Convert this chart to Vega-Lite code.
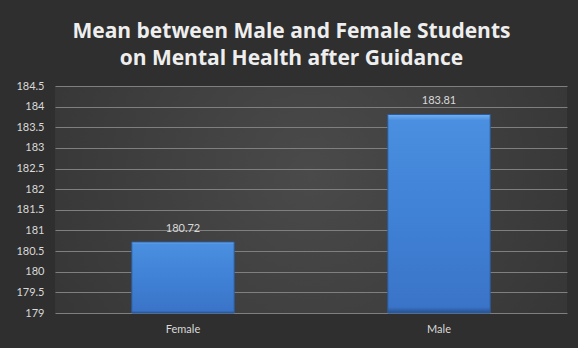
{
  "$schema": "https://vega.github.io/schema/vega-lite/v6.json",
  "width": 512,
  "height": 227,
  "autosize": {"type": "none"},
  "padding": {"left": 55, "top": 86, "right": 11, "bottom": 35},
  "background": "#2f2f2f",
  "title": {
    "text": ["Mean between Male and Female Students", "on Mental Health after Guidance"],
    "anchor": "middle",
    "frame": "bounds",
    "font": "Open Sans",
    "fontSize": 21,
    "fontWeight": "bold",
    "color": "#eeeeee",
    "lineHeight": 27,
    "offset": 11
  },
  "data": {
    "values": [
      {"gender": "Female", "mean": 180.72},
      {"gender": "Male", "mean": 183.81}
    ]
  },
  "encoding": {
    "x": {
      "field": "gender",
      "type": "nominal",
      "sort": ["Female", "Male"],
      "scale": {"paddingInner": 0.6, "paddingOuter": 0.3},
      "axis": {
        "title": null,
        "labelAngle": 0,
        "domain": false,
        "ticks": false,
        "labelPadding": 10,
        "labelFont": "Lato",
        "labelFontSize": 11,
        "labelColor": "#d9d9d9"
      }
    },
    "y": {
      "field": "mean",
      "type": "quantitative",
      "scale": {"domain": [179, 184.5], "zero": false, "nice": false},
      "axis": {
        "title": null,
        "values": [179, 179.5, 180, 180.5, 181, 181.5, 182, 182.5, 183, 183.5, 184, 184.5],
        "format": "~g",
        "domain": false,
        "ticks": false,
        "labelPadding": 11,
        "labelFont": "Lato",
        "labelFontSize": 11,
        "labelColor": "#d9d9d9",
        "grid": true,
        "gridColor": "#7f7f7f",
        "gridWidth": 1.2
      }
    }
  },
  "layer": [
    {
      "mark": {
        "type": "bar",
        "stroke": "#2a5c9e",
        "strokeWidth": 1,
        "fill": {
          "gradient": "linear",
          "x1": 0, "y1": 0, "x2": 0, "y2": 1,
          "stops": [
            {"offset": 0, "color": "#74b0f2"},
            {"offset": 0.03, "color": "#4a8fe0"},
            {"offset": 0.5, "color": "#4082d6"},
            {"offset": 0.97, "color": "#3a74c8"},
            {"offset": 1, "color": "#264f8a"}
          ]
        }
      },
      "encoding": {
        "y2": {"datum": 179}
      }
    },
    {
      "mark": {
        "type": "text",
        "dy": -13,
        "font": "Lato",
        "fontSize": 11,
        "color": "#d9d9d9"
      },
      "encoding": {
        "text": {"field": "mean", "type": "quantitative", "format": ".2f"}
      }
    }
  ],
  "config": {
    "view": {
      "stroke": null,
      "fill": {
        "gradient": "radial",
        "x1": 0.5, "y1": 0.45, "r1": 0,
        "x2": 0.5, "y2": 0.45, "r2": 0.75,
        "stops": [
          {"offset": 0, "color": "#4a4a4a"},
          {"offset": 1, "color": "#303030"}
        ]
      }
    }
  }
}
